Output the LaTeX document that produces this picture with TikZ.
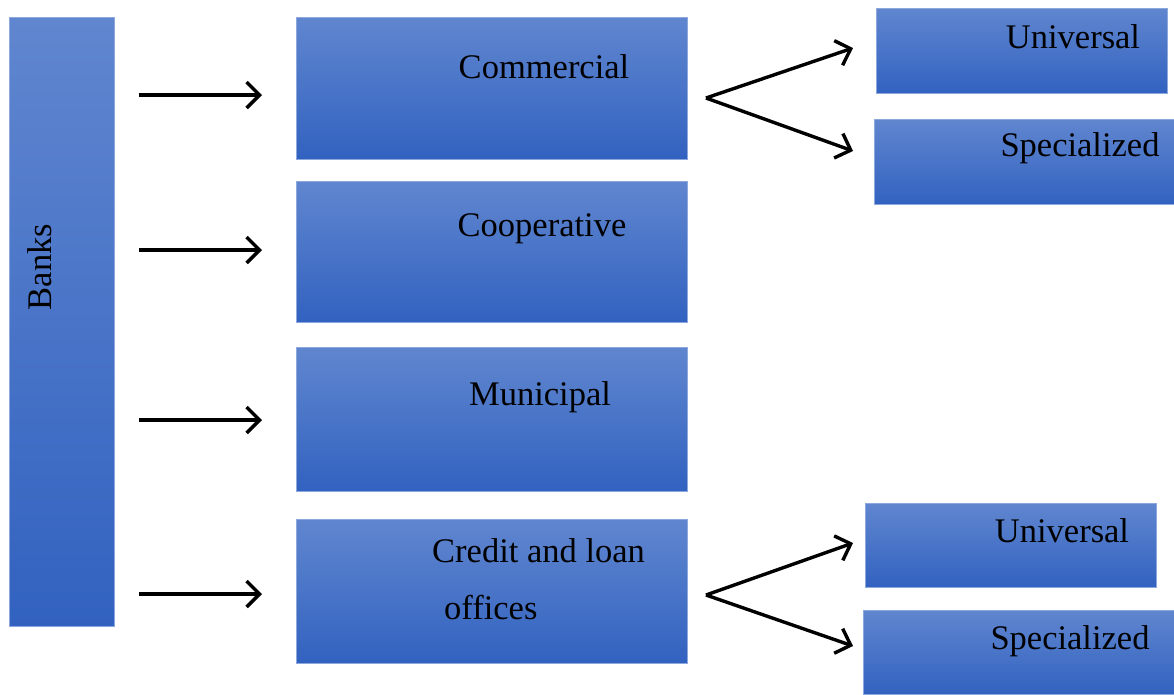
\documentclass[tikz,border=0pt]{standalone}
\usepackage{fontspec}
\setmainfont{Liberation Serif}
\usetikzlibrary{arrows.meta}
\definecolor{topblue}{RGB}{96,134,207}
\definecolor{botblue}{RGB}{50,98,192}
\definecolor{edgeblue}{RGB}{140,168,220}
\tikzset{
  box/.style={draw=edgeblue, line width=0.8pt, top color=topblue, bottom color=botblue,
    anchor=north west, inner sep=0pt, outer sep=0pt},
  lbl/.style={font=\fontsize{34.5}{40}\selectfont, inner sep=0pt, text=black},
  arr/.style={line width=3.4pt, -{Straight Barb[length=13pt,width=26pt,line width=3.4pt]}}
}
\begin{document}
\begin{tikzpicture}[x=1pt,y=-1pt]
\useasboundingbox (0,0) rectangle (1174,694);
% boxes
\node[box, minimum width=105pt, minimum height=609pt] (banks) at (9,17) {};
\node[box, minimum width=391pt, minimum height=142pt] (com) at (296,17) {};
\node[box, minimum width=391pt, minimum height=141pt] (coop) at (296,181) {};
\node[box, minimum width=391pt, minimum height=144pt] (mun) at (296,347) {};
\node[box, minimum width=391pt, minimum height=144pt] (cred) at (296,519) {};
\node[box, minimum width=291pt, minimum height=85pt] (uni1) at (876,8) {};
\node[box, minimum width=300pt, minimum height=85pt] (spe1) at (874,119) {};
\node[box, minimum width=291pt, minimum height=84pt] (uni2) at (865,503) {};
\node[box, minimum width=311pt, minimum height=84pt] (spe2) at (863,610) {};
% labels
\node[lbl, rotate=90] (banksT) at (40,267) {Banks};
\node[lbl] (comT) at (544,67) {Commercial};
\node[lbl] (coopT) at (542,229) {Cooperative};
\node[lbl] (munT) at (540,397) {Municipal};
\node[lbl, anchor=west] (credT1) at (432,551) {Credit and loan};
\node[lbl, anchor=west] (credT2) at (444,608) {offices};
\node[lbl] (uni1T) at (1073,37) {Universal};
\node[lbl] (spe1T) at (1080,148) {Specialized};
\node[lbl] (uni2T) at (1062,531) {Universal};
\node[lbl] (spe2T) at (1070,641) {Specialized};
% arrow end points
\coordinate (a1s) at (139,95);  \coordinate (a1e) at (262,95);
\coordinate (a2s) at (139,250); \coordinate (a2e) at (262,250);
\coordinate (a3s) at (139,420); \coordinate (a3e) at (262,420);
\coordinate (a4s) at (139,594); \coordinate (a4e) at (262,594);
\coordinate (b1) at (706,98);  \coordinate (b1u) at (853,48); \coordinate (b1d) at (853,151);
\coordinate (b2) at (706,595); \coordinate (b2u) at (853,543); \coordinate (b2d) at (853,646);
\draw[arr] (a1s) -- (a1e);
\draw[arr] (a2s) -- (a2e);
\draw[arr] (a3s) -- (a3e);
\draw[arr] (a4s) -- (a4e);
\draw[arr] (b1) -- (b1u);
\draw[arr] (b1) -- (b1d);
\draw[arr] (b2) -- (b2u);
\draw[arr] (b2) -- (b2d);
\end{tikzpicture}
\end{document}
